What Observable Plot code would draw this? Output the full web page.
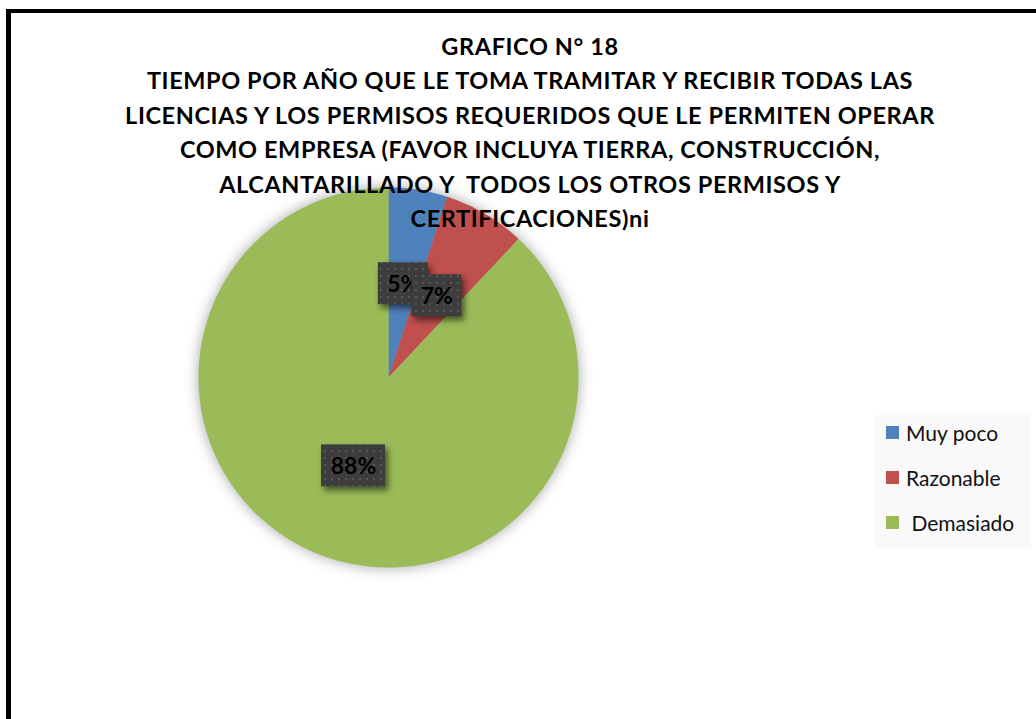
<!DOCTYPE html>
<html>
<head>
<meta charset="utf-8">
<script src="https://cdn.jsdelivr.net/npm/d3@7"></script>
<script src="https://cdn.jsdelivr.net/npm/@observablehq/plot@0.6"></script>
<style>
  html, body { margin: 0; padding: 0; background: #fff; }
  body { width: 1036px; height: 719px; overflow: hidden; position: relative; font-family: Lato, "Open Sans", sans-serif; }
  #frame { position: absolute; left: 6px; top: 9px; width: 1100px; height: 800px; border-left: 5px solid #000; border-top: 4px solid #000; box-sizing: border-box; }
  #chart { position: absolute; left: 0; top: 0; }
  #chart svg g[aria-label="line"] { filter: drop-shadow(0px 0px 7px rgba(0,0,0,0.35)); }
  #chart svg g[aria-label="rect"] { filter: drop-shadow(3px 4px 3px rgba(0,0,0,0.55)); }
  #title { position: absolute; left: 0; width: 1060px; top: 29px; text-align: center; font-weight: 700; font-size: 23.5px; letter-spacing: 0.6px; line-height: 34.4px; color: #000; white-space: pre; }
  #legend { position: absolute; left: 874px; top: 415px; width: 157px; height: 133px; background: #f9f9f9; }
  .item { position: absolute; left: 12px; height: 22px; display: flex; align-items: center; font-size: 21px; color: #111; white-space: pre; }
  .sw { width: 13px; height: 13px; margin-right: 7px; }
</style>
</head>
<body>
<div id="frame"></div>
<div id="chart"></div>
<div id="legend"></div>
<div id="title"></div>
<script>
// ---- data ----
const categories = ["Muy poco", "Razonable", "Demasiado"];
const percents = [5, 7, 88];
const colors = ["#4F81BD", "#C0504D", "#9BBB59"];
const legendLabels = ["Muy poco", "Razonable", " Demasiado"];
const titleLines = [
  "GRAFICO N° 18",
  "TIEMPO POR AÑO QUE LE TOMA TRAMITAR Y RECIBIR TODAS LAS",
  "LICENCIAS Y LOS PERMISOS REQUERIDOS QUE LE PERMITEN OPERAR",
  "COMO EMPRESA (FAVOR INCLUYA TIERRA, CONSTRUCCIÓN,",
  "ALCANTARILLADO Y  TODOS LOS OTROS PERMISOS Y",
  "CERTIFICACIONES)ni"
];

// ---- geometry from data ----
const arcs = d3.pie().sort(null).value(d => d.v)(categories.map((c, i) => ({c, v: percents[i]})));
const slicePts = arcs.flatMap(a => {
  const n = Math.max(2, Math.ceil((a.endAngle - a.startAngle) / (Math.PI / 180)));
  const pts = [{c: a.data.c, x: 0, y: 0}];
  for (let k = 0; k <= n; k++) {
    const t = a.startAngle + (a.endAngle - a.startAngle) * k / n;
    pts.push({c: a.data.c, x: Math.sin(t), y: Math.cos(t)});
  }
  pts.push({c: a.data.c, x: 0, y: 0});
  return pts;
});
const labels = arcs.map(a => {
  const m = (a.startAngle + a.endAngle) / 2;
  return {c: a.data.c, text: a.data.v + "%", x: 0.5 * Math.sin(m), y: 0.5 * Math.cos(m)};
});

const labelMarks = labels.flatMap(l => {
  const hw = l.text.length > 2 ? 32 : 25;
  return [
    Plot.rect([l], {x1: "x", x2: "x", y1: "y", y2: "y", insetLeft: -hw, insetRight: -hw, insetTop: -21, insetBottom: -21, fill: "url(#dots)"}),
    Plot.text([l], {x: "x", y: "y", text: "text", fill: "#000", fontSize: 23, fontWeight: 700, fontFamily: "Lato, 'Open Sans', sans-serif", dy: 1})
  ];
});

const plot = Plot.plot({
  width: 1036,
  height: 719,
  margin: 0,
  style: {background: "transparent", overflow: "visible"},
  x: {domain: [-1, 1], range: [198, 578], axis: null},
  y: {domain: [-1, 1], range: [567, 187], axis: null},
  color: {domain: categories, range: colors},
  marks: [
    Plot.line(slicePts, {x: "x", y: "y", z: "c", fill: "c", stroke: "none"}),
    ...labelMarks
  ]
});

// dotted pattern for label boxes
const ns = "http://www.w3.org/2000/svg";
const defs = document.createElementNS(ns, "defs");
defs.innerHTML = '<pattern id="dots" width="7" height="7" patternUnits="userSpaceOnUse">' +
  '<rect width="7" height="7" fill="#3d3d3d"/><rect x="2" y="2" width="2" height="2" fill="#575757"/></pattern>';
plot.insertBefore(defs, plot.firstChild);
document.getElementById("chart").appendChild(plot);

// title
document.getElementById("title").textContent = titleLines.join("\n");

// legend
const leg = document.getElementById("legend");
const color = plot.scale("color");
categories.forEach((c, i) => {
  const it = document.createElement("div");
  it.className = "item";
  it.style.top = (6 + i * 45) + "px";
  const sw = document.createElement("div");
  sw.className = "sw";
  sw.style.background = color.range[i];
  const tx = document.createElement("span");
  tx.textContent = legendLabels[i];
  it.appendChild(sw); it.appendChild(tx);
  leg.appendChild(it);
});
</script>
</body>
</html>
